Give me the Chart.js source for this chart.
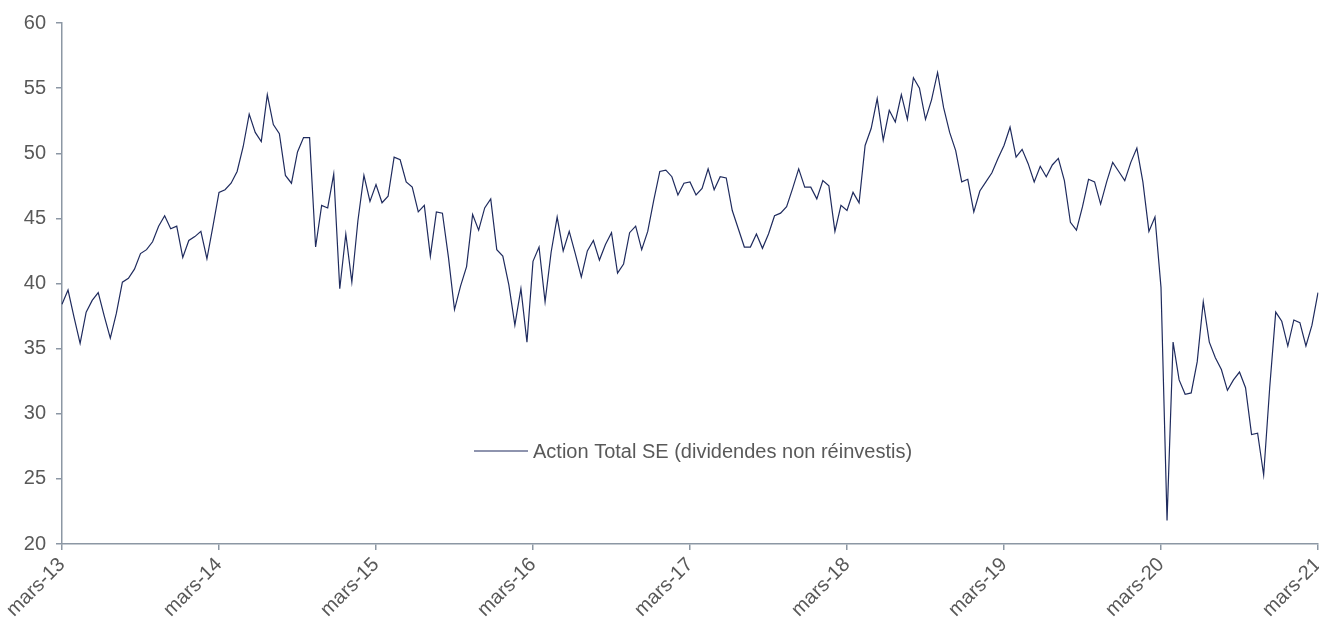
<!DOCTYPE html>
<html>
<head>
<meta charset="utf-8">
<script src="https://cdn.jsdelivr.net/npm/chart.js@4/dist/chart.umd.min.js"></script>
<style>
  html, body { margin: 0; padding: 0; background: #fff; }
  #box { width: 1319px; height: 626px; position: relative; }
</style>
</head>
<body>
<div id="box"><canvas id="chartBox"></canvas></div>
<script>
// one point roughly every two weeks, mars-13 .. mars-21
const yearLabels = ['mars-13', 'mars-14', 'mars-15', 'mars-16', 'mars-17', 'mars-18', 'mars-19', 'mars-20', 'mars-21']
const pointsPerYear = 26
const seriesName = 'Action Total SE (dividendes non réinvestis)'

const price2013 = [38.4, 39.5, 37.4, 35.4, 37.8, 38.7, 39.3, 37.5, 35.8, 37.7, 40.1, 40.4, 41.1,
    42.3, 42.6, 43.2, 44.4, 45.2, 44.2, 44.4, 42.0, 43.3, 43.6, 44.0, 41.9, 44.4]
const price2014 = [47.0, 47.2, 47.7, 48.6, 50.5, 53.0, 51.6, 50.9, 54.5, 52.2, 51.5, 48.3, 47.7,
    50.1, 51.2, 51.2, 42.8, 46.0, 45.8, 48.4, 39.6, 43.8, 40.1, 44.8, 48.3, 46.3]
const price2015 = [47.6, 46.2, 46.7, 49.7, 49.5, 47.8, 47.4, 45.5, 46.0, 42.1, 45.5, 45.4, 42.0,
    38.0, 39.8, 41.3, 45.3, 44.1, 45.8, 46.5, 42.6, 42.1, 39.9, 36.8, 39.6, 35.5]
const price2016 = [41.7, 42.8, 38.6, 42.4, 45.1, 42.5, 44.0, 42.3, 40.5, 42.5, 43.3, 41.8, 43.0,
    43.9, 40.8, 41.5, 43.9, 44.4, 42.6, 44.0, 46.4, 48.6, 48.7, 48.2, 46.8, 47.7]
const price2017 = [47.8, 46.8, 47.3, 48.8, 47.2, 48.2, 48.1, 45.6, 44.2, 42.8, 42.8, 43.8, 42.7,
    43.8, 45.2, 45.4, 45.9, 47.3, 48.8, 47.4, 47.4, 46.5, 47.9, 47.5, 44.0, 46.0]
const price2018 = [45.6, 47.0, 46.2, 50.6, 51.9, 54.2, 51.0, 53.3, 52.4, 54.5, 52.6, 55.8, 55.0,
    52.6, 54.1, 56.2, 53.5, 51.6, 50.2, 47.8, 48.0, 45.5, 47.1, 47.8, 48.5, 49.6]
const price2019 = [50.6, 52.0, 49.7, 50.3, 49.2, 47.8, 49.0, 48.2, 49.1, 49.6, 47.9, 44.7, 44.1,
    45.9, 48.0, 47.8, 46.1, 47.8, 49.3, 48.6, 47.9, 49.3, 50.4, 47.8, 44.0, 45.1]
const price2020 = [39.7, 21.8, 35.5, 32.6, 31.5, 31.6, 34.0, 38.6, 35.5, 34.3, 33.4, 31.8, 32.6,
    33.2, 32.0, 28.4, 28.5, 25.3, 32.0, 37.8, 37.1, 35.2, 37.2, 37.0, 35.2, 36.8]
const price2021 = [39.3]

const prices = [].concat(price2013, price2014, price2015, price2016, price2017,
    price2018, price2019, price2020, price2021)
const labels = prices.map((v, i) => i % pointsPerYear === 0 ? yearLabels[i / pointsPerYear] : '')

const axisColor = '#8c97a4'
const textColor = '#595959'
const lineColor = '#1f2b5e'
const font = { family: '"Liberation Sans", Arial, sans-serif', size: 20 }

// legend drawn in the middle of the plot, like the original
const middleLegend = {
    id: 'middleLegend',
    afterDraw(chart) {
        const ctx = chart.ctx
        const ds = chart.data.datasets[0]
        const y = 451
        ctx.save()
        ctx.strokeStyle = ds.borderColor
        ctx.lineWidth = 1.2
        ctx.beginPath()
        ctx.moveTo(474, y)
        ctx.lineTo(528, y)
        ctx.stroke()
        ctx.fillStyle = textColor
        ctx.font = `${font.size}px ${font.family}`
        ctx.textBaseline = 'middle'
        ctx.fillText(ds.label, 533, y + 1)
        ctx.restore()
    }
}

const context = document.querySelector('#chartBox').getContext('2d')
const chart = new Chart(context, {
    type: 'line',
    data: {
        labels,
        datasets: [{
            label: seriesName,
            data: prices,
            borderColor: lineColor,
            borderWidth: 1.2,
            pointRadius: 0,
            tension: 0,
            fill: false
        }]
    },
    options: {
        responsive: true,
        maintainAspectRatio: false,
        animation: false,
        layout: { padding: { top: 23, right: 1, left: 0, bottom: 0 } },
        plugins: {
            legend: { display: false },
            tooltip: { enabled: false }
        },
        scales: {
            x: {
                offset: false,
                border: { color: axisColor, width: 1.5 },
                grid: { display: true, drawOnChartArea: false, drawTicks: true, tickLength: 6, color: axisColor, lineWidth: 1.5 },
                ticks: {
                    autoSkip: false,
                    minRotation: 45,
                    maxRotation: 45,
                    color: textColor,
                    font,
                    padding: 3,
                    callback: (v, i) => labels[i] === '' ? null : labels[i]
                },
                afterFit: (scale) => {
                    scale.height = 82
                    scale.paddingLeft = 0
                    scale.paddingRight = 0
                }
            },
            y: {
                min: 20,
                max: 60,
                border: { color: axisColor, width: 1.5 },
                grid: { display: true, drawOnChartArea: false, drawTicks: true, tickLength: 6, color: axisColor, lineWidth: 1.5 },
                ticks: { stepSize: 5, color: textColor, font, padding: 10 },
                afterFit: (scale) => { scale.width = 62 }
            }
        }
    },
    plugins: [middleLegend]
})
</script>
</body>
</html>
